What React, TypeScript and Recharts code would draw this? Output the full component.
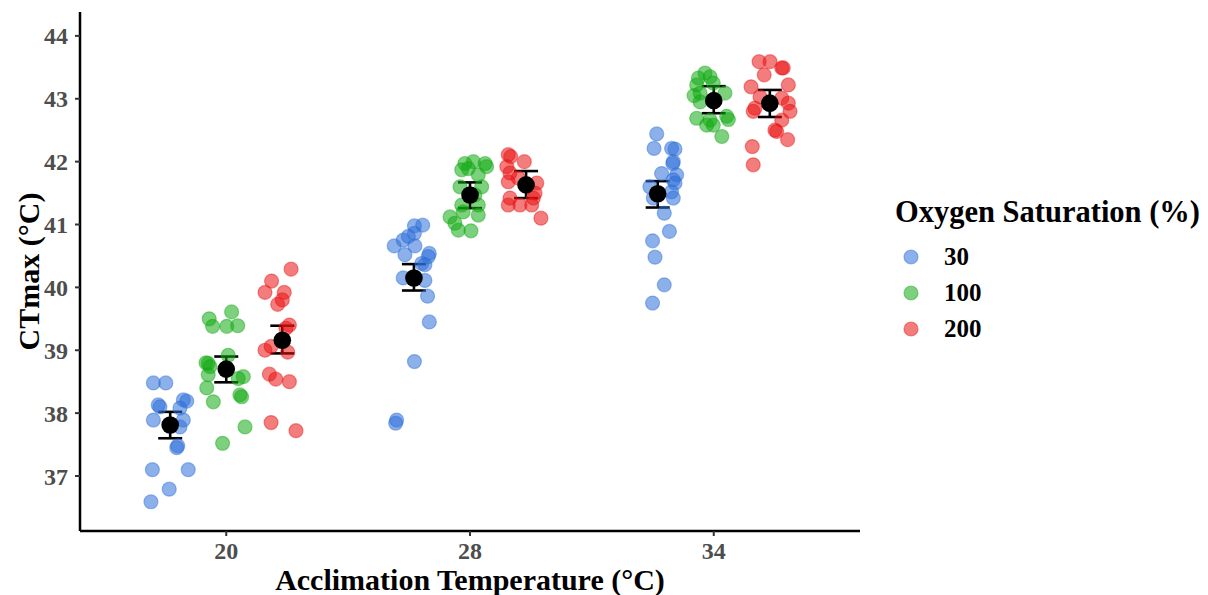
import { ErrorBar, Legend, Scatter, ScatterChart, XAxis, YAxis } from 'recharts'

const temps = ['20', '28', '34']
const oxygen = ['30', '100', '200']

// jittered observations: [x position on the temperature axis, CTmax]
const o30t20 = [
  [0.701, 38.48], [0.752, 38.48], [0.721, 38.13], [0.728, 38.1], [0.701, 37.89], [0.824, 38.21],
  [0.838, 38.19], [0.81, 38.08], [0.824, 37.89], [0.81, 37.78], [0.801, 37.48], [0.797, 37.45],
  [0.697, 37.1], [0.844, 37.1], [0.766, 36.79], [0.691, 36.59],
]
const o30t28 = [
  [1.772, 40.98], [1.806, 40.99], [1.772, 40.86], [1.689, 40.66], [1.726, 40.75], [1.747, 40.81],
  [1.774, 40.66], [1.733, 40.52], [1.833, 40.54], [1.829, 40.49], [1.802, 40.38], [1.815, 40.36],
  [1.726, 40.15], [1.815, 40.11], [1.826, 39.86], [1.833, 39.45], [1.772, 38.82], [1.699, 37.89],
  [1.695, 37.84],
]
const o30t34 = [
  [2.766, 42.44], [2.755, 42.21], [2.827, 42.21], [2.841, 42.2], [2.834, 42.0], [2.832, 41.97],
  [2.786, 41.81], [2.848, 41.79], [2.834, 41.71], [2.841, 41.66], [2.738, 41.6], [2.827, 41.52],
  [2.752, 41.42], [2.834, 41.42], [2.797, 41.18], [2.818, 40.89], [2.749, 40.74], [2.759, 40.48],
  [2.797, 40.04], [2.749, 39.75],
]
const o100t20 = [
  [0.93, 39.5], [1.022, 39.61], [0.944, 39.38], [1.002, 39.38], [1.047, 39.39], [1.008, 38.92],
  [0.926, 38.79], [0.933, 38.74], [0.917, 38.8], [0.926, 38.61], [1.07, 38.58], [1.049, 38.55],
  [0.92, 38.4], [1.056, 38.29], [1.063, 38.26], [0.947, 38.18], [1.077, 37.78], [0.985, 37.52],
]
const o100t28 = [
  [1.979, 41.97], [2.014, 42.0], [2.062, 41.97], [2.068, 41.92], [1.966, 41.87], [1.993, 41.89],
  [2.034, 41.79], [1.959, 41.6], [2.048, 41.6], [2.02, 41.47], [1.966, 41.31], [2.034, 41.31],
  [1.972, 41.2], [2.034, 41.15], [1.918, 41.12], [1.938, 41.02], [1.952, 40.91], [2.004, 40.9],
]
const o100t34 = [
  [2.964, 43.41], [2.937, 43.33], [2.985, 43.35], [2.998, 43.25], [2.93, 43.22], [2.944, 43.09],
  [2.919, 43.05], [3.046, 43.09], [2.944, 42.95], [3.053, 42.72], [2.93, 42.69], [2.985, 42.66],
  [3.06, 42.67], [2.971, 42.58], [2.998, 42.58], [3.033, 42.4],
]
const o200t20 = [
  [1.266, 40.29], [1.186, 40.1], [1.159, 39.92], [1.238, 39.92], [1.211, 39.73], [1.23, 39.8],
  [1.259, 39.4], [1.245, 39.35], [1.159, 39.0], [1.184, 39.06], [1.252, 38.97], [1.177, 38.62],
  [1.203, 38.54], [1.259, 38.5], [1.184, 37.85], [1.286, 37.72],
]
const o200t28 = [
  [2.157, 42.11], [2.167, 42.08], [2.223, 42.0], [2.151, 41.92], [2.164, 41.82], [2.157, 41.68],
  [2.198, 41.74], [2.274, 41.66], [2.267, 41.5], [2.164, 41.42], [2.26, 41.42], [2.157, 41.31],
  [2.205, 41.31], [2.253, 41.31], [2.291, 41.1],
]
const o200t34 = [
  [3.186, 43.59], [3.231, 43.59], [3.279, 43.49], [3.285, 43.49], [3.207, 43.38], [3.153, 43.19],
  [3.306, 43.22], [3.19, 43.03], [3.306, 42.93], [3.279, 43.01], [3.169, 42.85], [3.162, 42.8],
  [3.313, 42.8], [3.279, 42.66], [3.251, 42.5], [3.258, 42.48], [3.303, 42.35], [3.158, 42.24],
  [3.162, 41.95],
]

// group means with lower / upper error bar ends, per temperature
const mean30 = [37.81, 40.15, 41.49]
const low30 = [37.6, 39.95, 41.27]
const high30 = [38.02, 40.37, 41.69]
const mean100 = [38.7, 41.47, 42.97]
const low100 = [38.49, 41.26, 42.77]
const high100 = [38.9, 41.67, 43.2]
const mean200 = [39.16, 41.63, 42.93]
const low200 = [38.95, 41.42, 42.71]
const high200 = [39.39, 41.85, 43.14]

const yTicks = [37, 38, 39, 40, 41, 42, 43, 44]

const COLORS = ['#2E6FD9', '#13AA13', '#E91313']
const DODGE = 0.23
const FONT = "'Liberation Serif', 'Times New Roman', serif"

const toPoints = (rows: number[][]) => rows.map(([x, y]) => ({ x, y }))

const series = [
  [...o30t20, ...o30t28, ...o30t34],
  [...o100t20, ...o100t28, ...o100t34],
  [...o200t20, ...o200t28, ...o200t34],
].map(toPoints)

const meanGroups = [
  [mean30, low30, high30],
  [mean100, low100, high100],
  [mean200, low200, high200],
]

const means = meanGroups.flatMap(([m, lo, hi], g) =>
  m.map((y, t) => ({ x: t + 1 + (g - 1) * DODGE, y, err: [y - lo[t], hi[t] - y] })),
)

const jitterDot = (color: string) => (props: any) => (
  <circle
    cx={props.cx}
    cy={props.cy}
    r={7}
    fill={color}
    fillOpacity={0.55}
    stroke={color}
    strokeOpacity={0.45}
    strokeWidth={1.2}
  />
)

const meanDot = (props: any) => <circle cx={props.cx} cy={props.cy} r={8.8} fill="#000" />

function XTitle({ viewBox }: any) {
  return (
    <text
      x={viewBox.x + viewBox.width / 2}
      y={590}
      textAnchor="middle"
      fontFamily={FONT}
      fontWeight="bold"
      fontSize={30}
      fill="#000"
    >
      Acclimation Temperature (°C)
    </text>
  )
}

function YTitle({ viewBox }: any) {
  const cx = 28
  const cy = viewBox.y + viewBox.height / 2
  return (
    <text
      x={cx}
      y={cy}
      transform={`rotate(-90 ${cx} ${cy})`}
      textAnchor="middle"
      dominantBaseline="central"
      fontFamily={FONT}
      fontWeight="bold"
      fontSize={30}
      fill="#000"
    >
      CTmax (°C)
    </text>
  )
}

function LegendBox() {
  return (
    <div style={{ fontFamily: FONT, fontWeight: 'bold', color: '#000', textAlign: 'left' }}>
      <div style={{ fontSize: 30.5, lineHeight: '38px', whiteSpace: 'nowrap' }}>Oxygen Saturation (%)</div>
      <div style={{ height: 8 }} />
      {oxygen.map((o, i) => (
        <div key={o} style={{ display: 'flex', alignItems: 'center', height: 36 }}>
          <svg width={33} height={36} style={{ flex: 'none' }}>
            <circle cx={16} cy={18} r={7} fill={COLORS[i]} fillOpacity={0.55} stroke={COLORS[i]} strokeOpacity={0.45} strokeWidth={1.2} />
          </svg>
          <span style={{ fontSize: 25, lineHeight: '36px', marginLeft: 16 }}>{o}</span>
        </div>
      ))}
    </div>
  )
}

const tickStyle = { fill: '#4D4D4D', fontSize: 24, fontWeight: 'bold', fontFamily: FONT }

export default function App() {
  return (
    <div style={{ position: 'absolute', left: 0, top: 0, width: 1208, height: 595, background: '#fff' }}>
      <ScatterChart width={1208} height={595} margin={{ top: 12, right: 348, bottom: 0, left: 0 }}>
        <XAxis
          type="number"
          dataKey="x"
          domain={[0.4, 3.6]}
          ticks={[1, 2, 3]}
          tickFormatter={(v: number) => temps[v - 1]}
          allowDataOverflow
          height={64}
          tickSize={5}
          tickMargin={6}
          tick={tickStyle}
          axisLine={{ stroke: '#000', strokeWidth: 2.5 }}
          tickLine={{ stroke: '#333', strokeWidth: 2 }}
          label={<XTitle />}
        />
        <YAxis
          type="number"
          dataKey="y"
          domain={[36.125, 44.38]}
          ticks={yTicks}
          interval={0}
          allowDataOverflow
          width={80}
          tickSize={5}
          tickMargin={7}
          tick={tickStyle}
          axisLine={{ stroke: '#000', strokeWidth: 2.5 }}
          tickLine={{ stroke: '#333', strokeWidth: 2 }}
          label={<YTitle />}
        />
        <Legend
          layout="horizontal"
          verticalAlign="middle"
          align="center"
          content={() => <LegendBox />}
          wrapperStyle={{ position: 'absolute', left: 895, top: 193, width: 313, height: 160 }}
        />
        {series.map((data, i) => (
          <Scatter
            key={oxygen[i]}
            name={oxygen[i]}
            data={data}
            fill={COLORS[i]}
            shape={jitterDot(COLORS[i])}
            isAnimationActive={false}
          />
        ))}
        <Scatter name="mean" data={means} fill="#000" shape={meanDot} legendType="none" isAnimationActive={false}>
          <ErrorBar dataKey="err" direction="y" width={12} strokeWidth={2.6} stroke="#000" />
        </Scatter>
      </ScatterChart>
    </div>
  )
}
